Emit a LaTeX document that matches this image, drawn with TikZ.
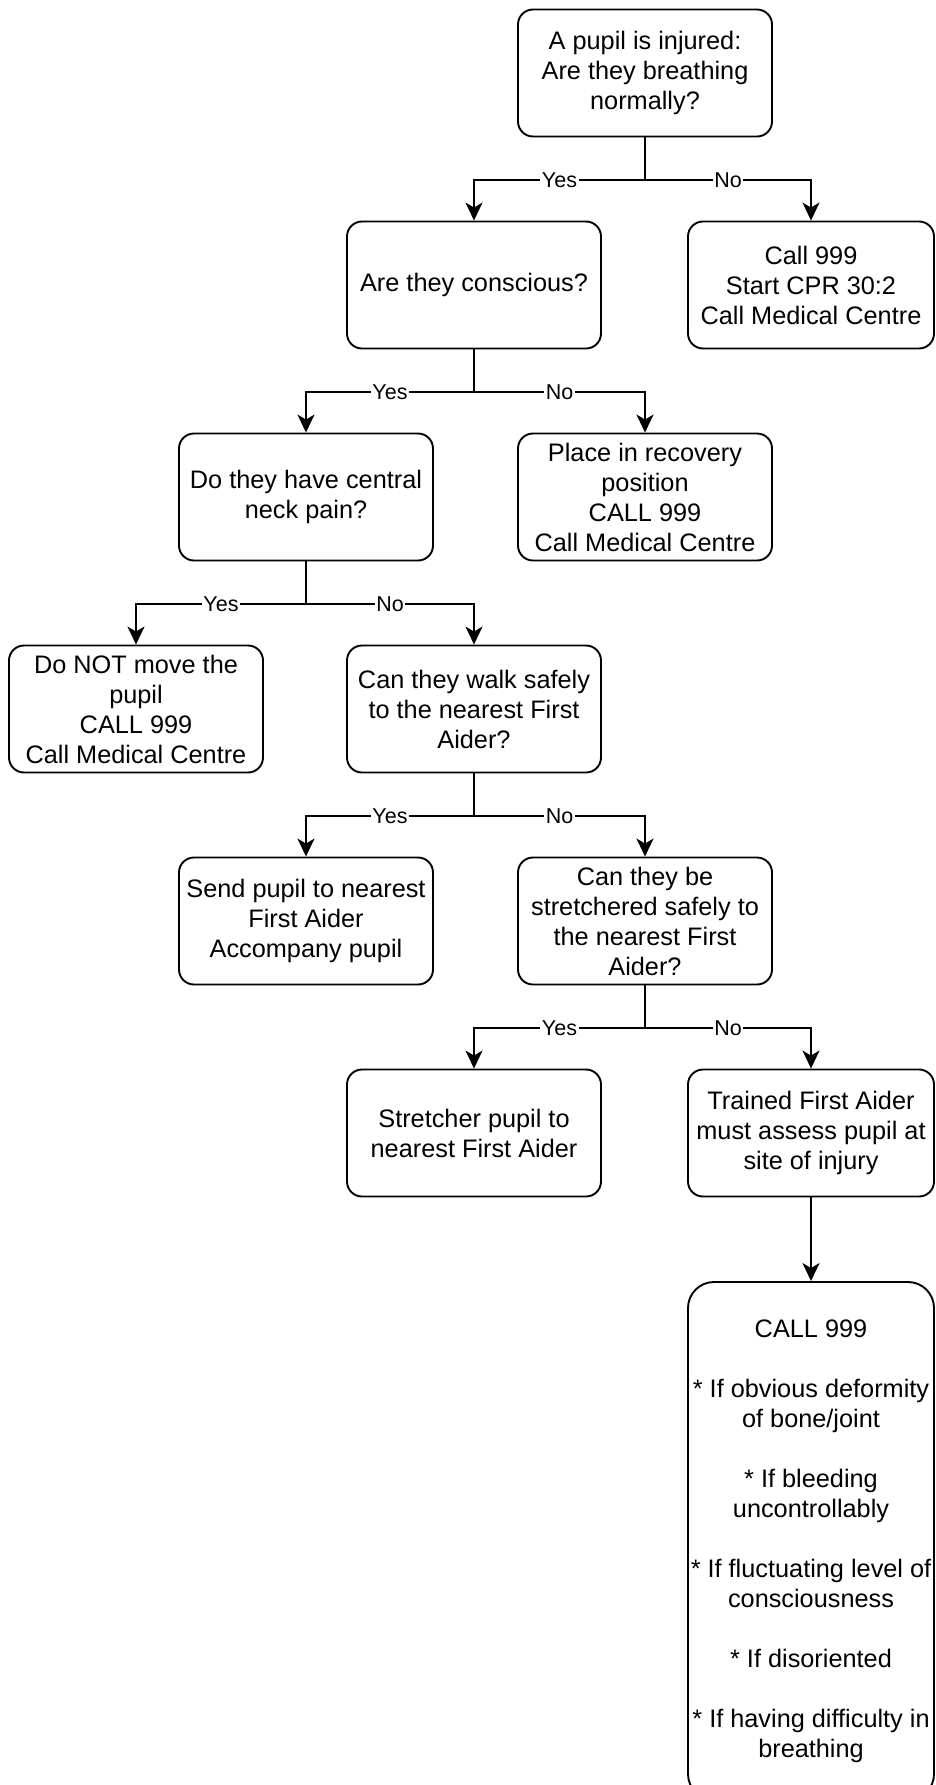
\documentclass[tikz,border=0pt]{standalone}
\usepackage{fontspec}
\setmainfont{Liberation Sans}
\usetikzlibrary{arrows.meta}

\begin{document}
\begin{tikzpicture}[x=1pt,y=-1pt,
    box/.style={draw,line width=1.9pt,rounded corners=15pt,
      minimum width=254pt,minimum height=127pt,inner sep=0pt,
      align=center,font=\fontsize{25.3}{30}\selectfont},
    rbox/.style={box,minimum width=246pt},
    lbl/.style={fill=white,inner sep=1.5pt,font=\fontsize{21.5}{25}\selectfont},
    wire/.style={line width=1.9pt},
    arr/.style={wire,-{Stealth[length=18pt,width=17pt,inset=5pt]}}]

  \useasboundingbox (0,0) rectangle (935,1785);

  \node[box] (breath) at (645,73) {A pupil is injured:\\Are they breathing\\normally?};
  \node[box] (consc) at (474,285) {Are they conscious?};
  \node[rbox] (cpr) at (811,285) {Call 999\\Start CPR 30:2\\Call Medical Centre};
  \node[box] (neck) at (306,497) {Do they have central\\neck pain?};
  \node[box] (recov) at (645,497) {Place in recovery\\position\\CALL 999\\Call Medical Centre};
  \node[box] (still) at (136,709) {Do NOT move the\\pupil\\CALL 999\\Call Medical Centre};
  \node[box] (walk) at (474,709) {Can they walk safely\\to the nearest First\\Aider?};
  \node[box] (send) at (306,921) {Send pupil to nearest\\First Aider\\Accompany pupil};
  \node[box] (strq) at (645,921) {Can they be\\stretchered safely to\\the nearest First\\Aider?};
  \node[box] (strch) at (474,1133) {Stretcher pupil to\\nearest First Aider};
  \node[rbox] (assess) at (811,1133) {Trained First Aider\\must assess pupil at\\site of injury};
  \node[rbox,minimum height=518pt,rounded corners=26pt] (urgent) at (811,1541)
    {CALL 999\\[30pt]
     * If obvious deformity\\of bone/joint\\[30pt]
     * If bleeding\\uncontrollably\\[30pt]
     * If fluctuating level of\\consciousness\\[30pt]
     * If disoriented\\[30pt]
     * If having difficulty in\\breathing};

  % yes/no forks
  \foreach \q/\yes/\no in {breath/consc/cpr,consc/neck/recov,neck/still/walk,
                           walk/send/strq,strq/strch/assess}
  {
    \draw[wire] (\q.south) -- ++(0,42.5) coordinate (fork);
    \draw[arr] (fork) -| node[lbl,pos=0.25] {Yes} (\yes.north);
    \draw[arr] (fork) -| node[lbl,pos=0.25] {No} (\no.north);
  }
  \draw[arr] (assess) -- (urgent);

\end{tikzpicture}
\end{document}
